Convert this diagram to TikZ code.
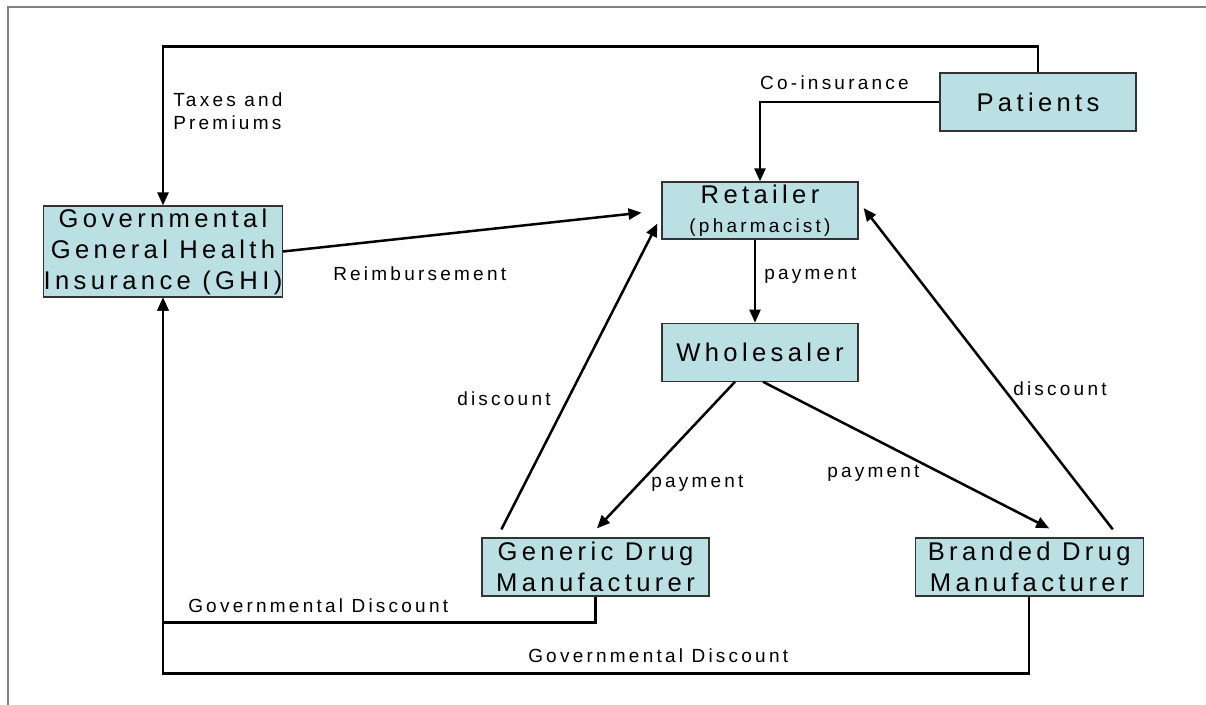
\documentclass[tikz,border=0pt]{standalone}
\usepackage{fontspec}
\setmainfont{Liberation Sans}[LetterSpace=17]
\usetikzlibrary{positioning,arrows.meta,calc}
\definecolor{boxfill}{RGB}{187,224,227}
\definecolor{framegray}{RGB}{128,128,128}
\tikzset{
  box/.style={draw=black!80, line width=0.6pt, fill=boxfill, inner sep=0pt, align=center,
    minimum height=29pt, font=\fontsize{12.8}{15.5}\selectfont},
  lbl/.style={font=\fontsize{9.5}{11.5}\selectfont, inner sep=0pt, anchor=west, align=left},
  arr/.style={-{Triangle[length=6.5pt,width=5.5pt]}},
}

\begin{document}
\begin{tikzpicture}[x=0.5pt, y=-0.5pt, line width=1.25pt]
        \useasboundingbox (0,0) rectangle (1206,705);
        \draw[framegray, line width=0.8pt] (8,705) -- (8,7) -- (1206,7);
        % Boxes
        \node[box, minimum width=119pt, minimum height=45.5pt] (ghi) at (163,251.5) {Governmental\\General Health\\Insurance (GHI)};
        \node[box, minimum width=98pt] (pat) at (1038,102) {Patients};
        \node[box, minimum width=98pt, minimum height=28.5pt] (ret) at (760,210.5) {Retailer\\[-1pt]\fontsize{9.5}{11}\selectfont(pharmacist)};
        \node[box, minimum width=98pt, below=41.5pt of ret] (whl) {Wholesaler};
        \node[box, minimum width=113.5pt] (gen) at (595.5,567) {Generic Drug\\Manufacturer};
        \node[box, minimum width=114pt, right=102.5pt of gen] (brd) {Branded Drug\\Manufacturer};
        % Labels
        \node[lbl] (taxlbl) at (172,111.5) {Taxes and\\Premiums};
        \node[lbl, anchor=east] (coinlbl) at (910,83) {Co-insurance};
        \node[lbl] (reimlbl) at (332,274) {Reimbursement};
        \node[lbl] (paylbl1) at (763,275) {payment};
        \node[lbl] (paylbl2) at (650,483) {payment};
        \node[lbl] (paylbl3) at (826,473) {payment};
        \node[lbl] (disclbl1) at (456,399) {discount};
        \node[lbl] (disclbl2) at (1012,389) {discount};
        \node[lbl] (govlbl1) at (187,606) {Governmental Discount};
        \node[lbl] (govlbl2) at (527,656) {Governmental Discount};
        % Money flows
        \draw[arr] (pat.north) -- ++(0,-26) -| (ghi.north);
        \draw[arr] (pat.west) -| (ret.north);
        \draw[arr, shorten >=10pt] (ghi.east) -- (ret.west);
        \draw[arr] ($(ret.south)+(-5,0)$) -- ($(whl.north)+(-5,0)$);
        \draw[arr] ($(whl.south)+(-25,0)$) -- ($(gen.north)+(1.5,-9)$);
        \draw[arr] ($(whl.south)+(3,0)$) -- ($(brd.north)+(20,-9)$);
        \draw[arr] ($(gen.north west)+(20,-8)$) -- ($(ret.south west)+(-4,-16)$);
        \draw[arr] ($(brd.north east)+(-31,-8)$) -- ($(ret.east)+(5,-2.5)$);
        \draw[arr] (gen.south) -- ++(0,26) -| (ghi.south);
        \draw[arr] (brd.south) -- ++(0,77) -| (ghi.south);
\end{tikzpicture}
\end{document}
